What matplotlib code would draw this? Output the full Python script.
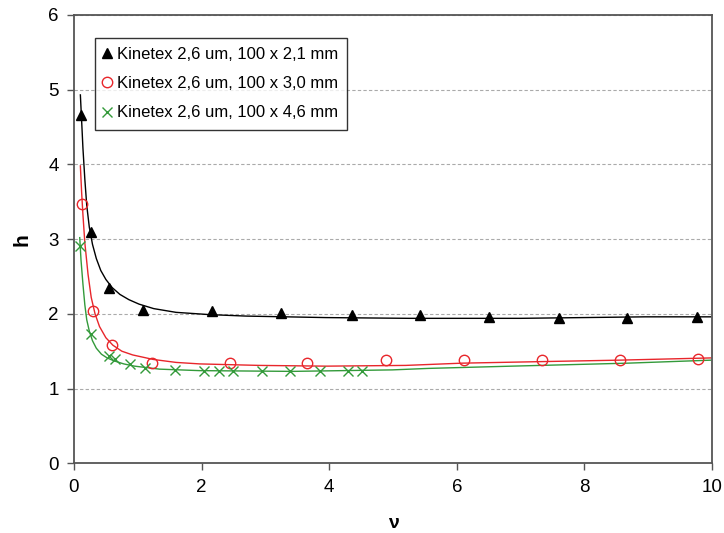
import numpy as np
import matplotlib
matplotlib.use("Agg")
import matplotlib.pyplot as plt

plt.rcParams['font.family'] = ['Liberation Sans', 'DejaVu Sans']

labels = ["Kinetex 2,6 um, 100 x 2,1 mm",
          "Kinetex 2,6 um, 100 x 3,0 mm",
          "Kinetex 2,6 um, 100 x 4,6 mm"]

# measured points
nu_21 = [0.11, 0.26, 0.55, 1.08, 2.16, 3.25, 4.35, 5.42, 6.50, 7.60, 8.67, 9.77]
h_21 = [4.66, 3.09, 2.35, 2.05, 2.04, 2.01, 1.98, 1.98, 1.96, 1.94, 1.94, 1.96]

nu_30 = [0.13, 0.30, 0.60, 1.22, 2.44, 3.66, 4.89, 6.12, 7.33, 8.56, 9.78]
h_30 = [3.47, 2.04, 1.58, 1.34, 1.34, 1.34, 1.38, 1.38, 1.38, 1.38, 1.39]

nu_46 = [0.10, 0.27, 0.55, 0.65, 0.88, 1.12, 1.58, 2.03, 2.27, 2.49, 2.94,
         3.39, 3.85, 4.30, 4.52]
h_46 = [2.91, 1.73, 1.43, 1.39, 1.33, 1.28, 1.25, 1.24, 1.24, 1.24, 1.24,
        1.24, 1.24, 1.24, 1.24]

# fitted curves
fit_nu_21 = [0.10, 0.12, 0.14, 0.17, 0.20, 0.24, 0.29, 0.35, 0.42, 0.50,
             0.60, 0.72, 0.86, 1.02, 1.25, 1.60, 2.12, 2.70, 3.95, 5.25,
             7.0, 8.95, 9.98]
fit_h_21 = [4.93, 4.58, 4.22, 3.80, 3.45, 3.16, 2.93, 2.74, 2.58, 2.46,
            2.35, 2.26, 2.19, 2.13, 2.07, 2.02, 1.99, 1.97, 1.95, 1.94,
            1.94, 1.96, 1.96]

fit_nu_30 = [0.10, 0.12, 0.14, 0.17, 0.22, 0.27, 0.33, 0.40, 0.50, 0.61,
             0.75, 0.92, 1.24, 1.60, 1.97, 2.90, 3.95, 5.20, 6.08, 7.28,
             8.53, 9.98]
fit_h_30 = [3.98, 3.62, 3.33, 2.95, 2.53, 2.22, 2.00, 1.83, 1.68, 1.58,
            1.50, 1.45, 1.39, 1.35, 1.33, 1.31, 1.30, 1.31, 1.34, 1.36,
            1.38, 1.41]

fit_nu_46 = [0.09, 0.11, 0.14, 0.17, 0.20, 0.24, 0.29, 0.35, 0.43, 0.52,
             0.63, 0.78, 0.95, 1.34, 1.97, 3.42, 4.99, 5.56, 6.86, 8.68, 9.98]
fit_h_46 = [3.02, 2.72, 2.40, 2.12, 1.92, 1.77, 1.64, 1.54, 1.46, 1.41,
            1.37, 1.33, 1.30, 1.26, 1.24, 1.23, 1.25, 1.27, 1.30, 1.34, 1.38]

red = '#e8262b'
green = '#339a3a'

fig = plt.figure(figsize=(7.24, 5.33), dpi=100)
ax = fig.add_axes([0.1022, 0.1308, 0.8812, 0.8411])

ax.plot(fit_nu_21, fit_h_21, color='black', lw=1.0)
ax.plot(fit_nu_30, fit_h_30, color=red, lw=1.0)
ax.plot(fit_nu_46, fit_h_46, color=green, lw=1.0)

ax.plot(nu_21, h_21, ls='none', marker='^', ms=7, color='black', label=labels[0])
ax.plot(nu_30, h_30, ls='none', marker='o', ms=7.5, mfc='none', mec=red,
        mew=1.0, label=labels[1])
ax.plot(nu_46, h_46, ls='none', marker='x', ms=7, mec=green, mew=1.0,
        label=labels[2])

ax.set_xlim(0, 10)
ax.set_ylim(0, 6)
ax.set_xticks(range(0, 11, 2))
ax.set_yticks(range(0, 7))
ax.yaxis.grid(True, ls=(0, (3, 2)), color='#aaaaaa', lw=0.8)
ax.set_axisbelow(True)

for s in ax.spines.values():
    s.set_color('#555555')
    s.set_linewidth(1.3)
ax.tick_params(direction='out', length=5, width=1, color='#555555',
               labelsize=13.5, pad=6)

ax.set_xlabel('ν', fontsize=14, fontweight='bold', labelpad=14)
ax.set_ylabel('h', fontsize=15, fontweight='bold', labelpad=12)

leg = ax.legend(loc='upper left', bbox_to_anchor=(0.033, 0.949),
                borderaxespad=0, fontsize=12, frameon=True, fancybox=False,
                handlelength=0.3, handletextpad=0.45, borderpad=0.55,
                labelspacing=0.85)
leg.get_frame().set_edgecolor('black')
leg.get_frame().set_linewidth(1.0)

fig.savefig('out.png', dpi=100)
